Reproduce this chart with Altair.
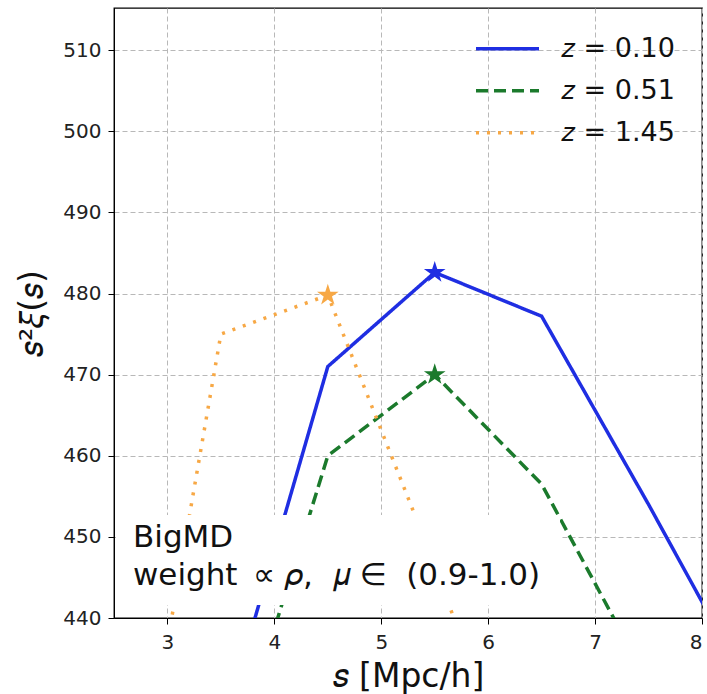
import altair as alt
import pandas as pd

# ---- data ----
s_vals = [2.5, 3.5, 4.5, 5.5, 6.5, 7.5, 8.5]
z010 = [400.0, 425.5, 471.0, 482.6, 477.2, 454.0, 430.0]
z051 = [395.0, 417.3, 460.0, 470.0, 456.5, 432.0, 410.0]
z145 = [399.0, 475.0, 479.8, 446.5, 410.0, 390.0, 370.0]
series_labels = ["𝑧 = 0.10", "𝑧 = 0.51", "𝑧 = 1.45"]
series_colors = ["#1f2ee2", "#1b7a2c", "#f7a845"]
series_dash = [[1, 0], [12, 6], [3, 8]]
peak_s = [5.5, 5.5, 4.5]
peak_v = [482.6, 470.0, 479.8]
x_ticks = [3, 4, 5, 6, 7, 8]
y_ticks = [440, 450, 460, 470, 480, 490, 500, 510]
annotation = ["BigMD", "weight\u2002∝ 𝜌,\u00a0\u00a0𝜇 ∈\u00a0\u00a0(0.9-1.0)"]

STAR = ("M0,-1L0.2245,-0.309L0.951,-0.309L0.3633,0.118L0.588,0.809L0,0.382"
        "L-0.588,0.809L-0.3633,0.118L-0.951,-0.309L-0.2245,-0.309Z")

rows = []
for lab, vals in zip(series_labels, [z010, z051, z145]):
    for s, v in zip(s_vals, vals):
        rows.append({"s": s, "v": v, "series": lab})
df = pd.DataFrame(rows)
peaks = pd.DataFrame({"s": peak_s, "v": peak_v, "series": series_labels})

FONT = "DejaVu Sans"
xscale = alt.Scale(domain=[2.5, 8], nice=False, zero=False)
yscale = alt.Scale(domain=[440, 515.2], nice=False, zero=False)
cscale = alt.Scale(domain=series_labels, range=series_colors)
dscale = alt.Scale(domain=series_labels, range=series_dash)

x_axis = alt.Axis(values=x_ticks, format="d", title="𝑠 [Mpc/h]", labelFontSize=20, titleFontSize=33,
                  labelFont=FONT, titleFont=FONT, titleFontWeight="normal",
                  tickSize=6, tickColor="black", domainColor="black", labelColor="#222",
                  titleColor="#111", labelPadding=8, titlePadding=8,
                  grid=True, gridColor="#b8b8b8", gridDash=[5, 3], gridWidth=1)
y_axis = alt.Axis(values=y_ticks, format="d", title="𝑠²𝜉(𝑠)", labelFontSize=20, titleFontSize=33,
                  labelFont=FONT, titleFont=FONT, titleFontWeight="normal",
                  tickSize=6, tickColor="black", domainColor="black", labelColor="#222",
                  titleColor="#111", labelPadding=7, titlePadding=13,
                  grid=True, gridColor="#b8b8b8", gridDash=[5, 3], gridWidth=1)

lines = alt.Chart(df).mark_line(strokeWidth=3.5, clip=True).encode(
    x=alt.X("s:Q", scale=xscale, axis=x_axis),
    y=alt.Y("v:Q", scale=yscale, axis=y_axis),
    color=alt.Color("series:N", scale=cscale, sort=series_labels,
                    legend=alt.Legend(title=None, orient="none", legendX=360, legendY=21,
                                      symbolType="stroke", symbolSize=3969,
                                      symbolStrokeWidth=3.5, labelFontSize=27,
                                      labelFont=FONT, labelColor="#111",
                                      labelOffset=20, rowPadding=2, clipHeight=39.5)),
    strokeDash=alt.StrokeDash("series:N", scale=dscale, sort=series_labels, legend=None),
    order=alt.Order("s:Q"),
)

stars = alt.Chart(peaks).mark_point(shape=STAR, filled=True, size=520, opacity=1, clip=True).encode(
    x=alt.X("s:Q", scale=xscale),
    y=alt.Y("v:Q", scale=yscale),
    color=alt.Color("series:N", scale=cscale, legend=None),
)

box = alt.Chart(pd.DataFrame({"a": [0]})).mark_rect(fill="white").encode(
    x=alt.value(2), x2=alt.value(446), y=alt.value(507), y2=alt.value(597)
)
label = alt.Chart(pd.DataFrame({"a": [0]})).mark_text(
    align="left", baseline="alphabetic", fontSize=31, font=FONT, color="#111", lineHeight=38,
    text=annotation,
).encode(x=alt.value(19), y=alt.value(539))

chart = alt.layer(lines, stars, box, label).properties(
    width=588, height=610,
    autosize=alt.AutoSizeParams(type="none"),
    padding={"left": 114, "top": 8, "right": 5, "bottom": 76},
).configure_view(stroke="black", strokeWidth=1.3)

chart.save("out.html", embed_options={"renderer": "svg", "actions": False})
